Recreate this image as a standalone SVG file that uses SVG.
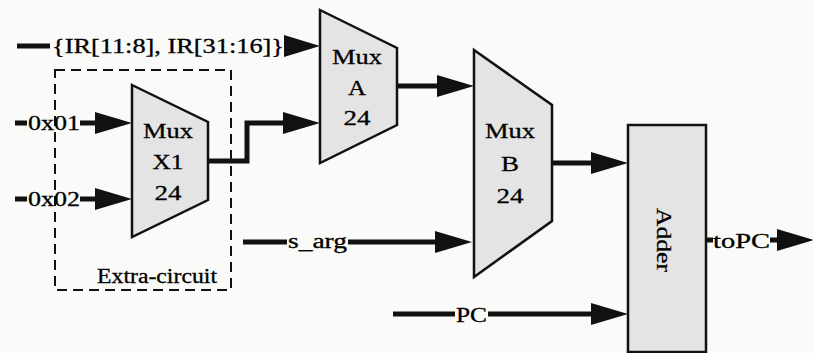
<svg xmlns="http://www.w3.org/2000/svg" width="813" height="353" viewBox="0 0 813 353">
<style>
.t{font-family:"Liberation Serif","Times New Roman",serif;font-size:20px;fill:#000;stroke:#000;stroke-width:0.3;}
.m{font-family:"Liberation Serif","Times New Roman",serif;font-size:22px;fill:#000;stroke:#000;stroke-width:0.3;text-anchor:middle;}
.blk{fill:#e4e4e4;stroke:#111;stroke-width:2.5;stroke-linejoin:miter;}
.w{fill:none;stroke:#111;stroke-width:5;}
.a{marker-end:url(#ah);}
.hd{fill:#111;}
</style>
<defs>
<marker id="ah" markerUnits="userSpaceOnUse" markerWidth="37" markerHeight="22" refX="0" refY="11" orient="auto" overflow="visible">
<path d="M0,0 L37,11 L0,22 z" fill="#111"/>
</marker>
</defs>
<rect width="813" height="353" fill="#fafaf8"/>

<g id="connectors">
<path class="w" d="M17,46 H50"/>
<path class="hd" d="M284,35 L320,46 L284,57 z"/>
<path class="w" d="M15,123 H27"/>
<path class="w a" d="M80,123 H95"/>
<path class="w" d="M15,199 H27"/>
<path class="w a" d="M80,199 H95"/>
<path class="w a" d="M208,161 H247 V123 H283"/>
<path class="w a" d="M397,86 H437"/>
<path class="w" d="M243,242 H287"/>
<path class="w a" d="M348,242 H435"/>
<path class="w a" d="M552,163 H591"/>
<path class="w" d="M393,314 H455"/>
<path class="w a" d="M488,314 H591"/>
<path class="w" d="M706,240 H713"/>
<path class="w a" d="M770,240 H777"/>
</g>

<g id="extra-circuit">
<rect x="55" y="70" width="176" height="220" fill="none" stroke="#111" stroke-width="2" stroke-dasharray="10 6"/>
<text class="t" x="97" y="283" textLength="120" lengthAdjust="spacingAndGlyphs">Extra-circuit</text>
</g>

<g id="label-ir">
<text class="t" x="52" y="53" textLength="232" lengthAdjust="spacingAndGlyphs">{IR[11:8], IR[31:16]}</text>
</g>
<g id="label-0x01"><text class="t" x="28" y="130" textLength="52" lengthAdjust="spacingAndGlyphs">0x01</text></g>
<g id="label-0x02"><text class="t" x="28" y="206" textLength="52" lengthAdjust="spacingAndGlyphs">0x02</text></g>
<g id="label-sarg"><text class="t" x="288" y="248" textLength="59" lengthAdjust="spacingAndGlyphs">s_arg</text></g>
<g id="label-pc"><text class="t" x="456" y="322" textLength="31" lengthAdjust="spacingAndGlyphs">PC</text></g>
<g id="label-topc"><text class="t" x="713" y="248" textLength="57" lengthAdjust="spacingAndGlyphs">toPC</text></g>

<g id="mux-x1">
<polygon class="blk" points="132,85 208,122 208,200 132,237"/>
<text class="m" x="168" y="138" textLength="50" lengthAdjust="spacingAndGlyphs">Mux</text>
<text class="m" x="168" y="169" textLength="31" lengthAdjust="spacingAndGlyphs">X1</text>
<text class="m" x="168" y="200" textLength="27" lengthAdjust="spacingAndGlyphs">24</text>
</g>

<g id="mux-a">
<polygon class="blk" points="320,10 397,48 397,125 320,163"/>
<text class="m" x="357" y="64" textLength="50" lengthAdjust="spacingAndGlyphs">Mux</text>
<text class="m" x="357" y="95" textLength="18" lengthAdjust="spacingAndGlyphs">A</text>
<text class="m" x="357" y="125" textLength="27" lengthAdjust="spacingAndGlyphs">24</text>
</g>

<g id="mux-b">
<polygon class="blk" points="474,50 552,105 552,221 474,277"/>
<text class="m" x="510" y="138" textLength="50" lengthAdjust="spacingAndGlyphs">Mux</text>
<text class="m" x="510" y="171" textLength="18" lengthAdjust="spacingAndGlyphs">B</text>
<text class="m" x="510" y="203" textLength="27" lengthAdjust="spacingAndGlyphs">24</text>
</g>

<g id="adder">
<rect class="blk" x="628" y="125" width="78" height="227"/>
<text class="m" transform="translate(657,240) rotate(90)" x="0" y="0" textLength="64" lengthAdjust="spacingAndGlyphs">Adder</text>
</g>
</svg>
